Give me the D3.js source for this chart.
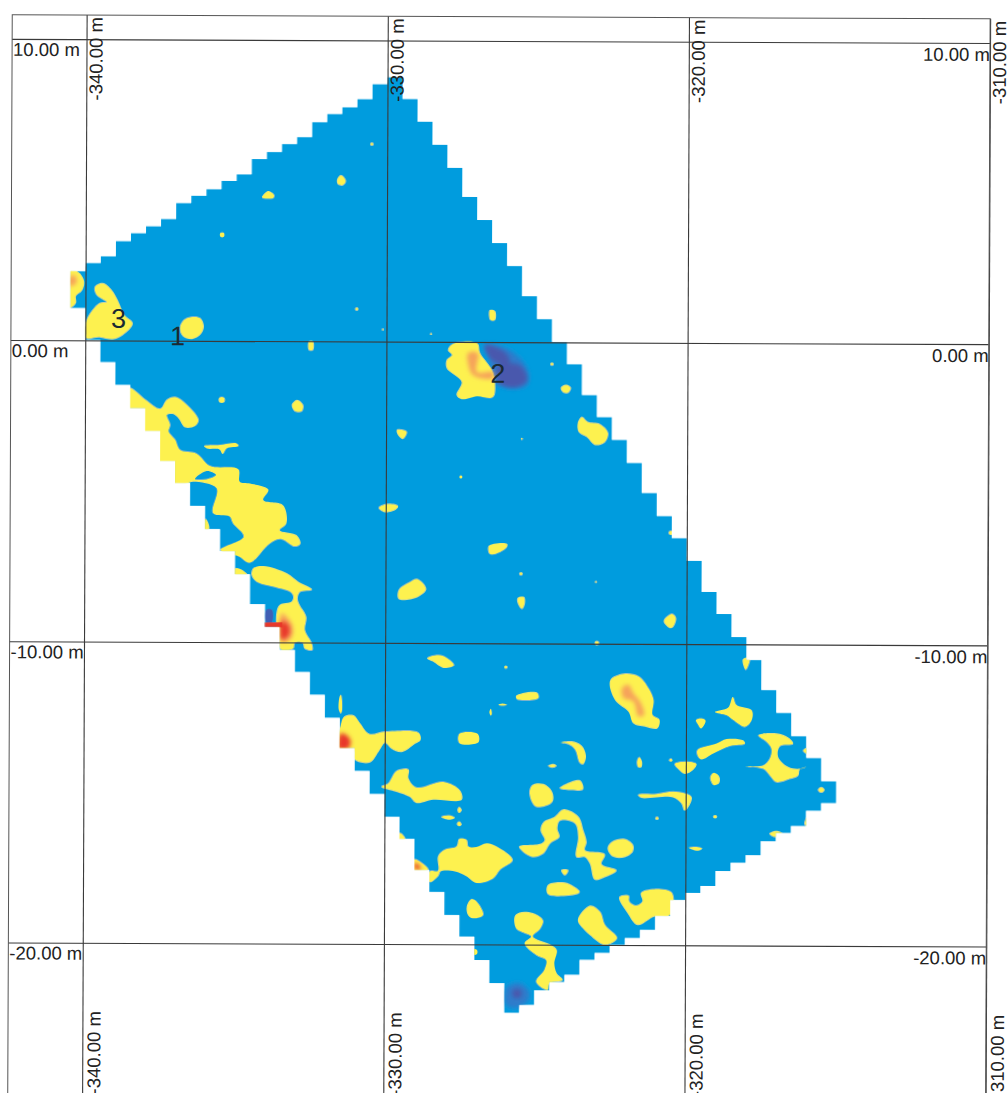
<!DOCTYPE html>
<html>
<head>
<meta charset="utf-8">
<script src="https://cdn.jsdelivr.net/npm/d3@7/dist/d3.min.js"></script>
<style>
  html, body { margin: 0; padding: 0; background: #fff; overflow: hidden; }
  text { font-family: "Liberation Sans", Arial, sans-serif; fill: #222; }
</style>
</head>
<body>
<div id="map"></div>
<script>
// grid ticks, metres
var xTicks = [-340, -330, -320, -310];
var yTicks = [10, 0, -10, -20];
var xTickLabels = ["-340.00 m", "-330.00 m", "-320.00 m", "-310.00 m"];
var yTickLabels = ["10.00 m", "0.00 m", "-10.00 m", "-20.00 m"];

// surveyed area: 0.5 m wide columns, top and bottom of each one (metres)
var colStart = -340.5, colWidth = 0.5;
var colTop = [2.30,2.57,2.80,3.30,3.57,3.80,4.04,4.57,4.81,5.04,5.31,5.54,6.04,6.28,6.55,6.78,7.28,7.55,7.78,8.05,8.55,8.78,8.06,7.30,6.54,5.78,4.81,4.05,3.29,2.53,1.53,0.77,0.01,-0.72,-1.74,-2.47,-3.23,-3.99,-4.99,-5.75,-6.48,-7.24,-8.27,-9.00,-9.76,-10.52,-11.51,-12.27,-13.04,-13.76,-14.53];
var colBottom = [1.07,0.01,-0.72,-1.48,-2.24,-3.00,-3.99,-4.72,-5.48,-6.25,-6.98,-7.74,-8.73,-9.49,-10.25,-10.98,-11.74,-12.50,-13.50,-14.26,-15.02,-15.78,-16.51,-17.54,-18.27,-19.03,-19.75,-20.52,-21.28,-22.27,-22.00,-21.51,-21.24,-21.00,-20.50,-20.27,-20.00,-19.77,-19.50,-19.03,-18.50,-18.26,-18.03,-17.53,-17.26,-17.00,-16.53,-16.26,-16.03,-15.52,-15.26];

// yellow anomalies, outlines in metres
var yellowBlobs = [
  [[-340.6,2.26],[-340.25,2.27],[-340.05,1.97],[-340.11,1.67],[-340.32,1.47],[-340.32,1.24],[-340.6,1.05]],
  [[-339.99,0.08],[-339.96,0.67],[-339.53,1.24],[-339.29,1.27],[-339.62,1.50],[-339.69,1.77],[-339.43,1.90],[-339.13,1.67],[-338.93,1.34],[-338.70,0.84],[-338.43,0.57],[-338.76,0.18],[-339.09,0.04],[-339.53,0.11]],
  [[-336.86,0.42],[-336.73,0.69],[-336.5,0.79],[-336.2,0.76],[-336.07,0.49],[-336.17,0.22],[-336.46,0.06],[-336.76,0.16]],
  [[-331.53,5.52],[-331.37,5.33],[-331.47,5.19],[-331.63,5.22],[-331.66,5.36]],
  [[-334.15,4.78],[-333.95,4.98],[-333.75,4.85],[-333.78,4.75],[-334.12,4.75]],
  [[-326.57,1.06],[-326.40,1.03],[-326.40,0.73],[-326.55,0.73]],
  [[-332.57,0.0],[-332.44,0.0],[-332.44,-0.29],[-332.57,-0.29]],
  [[-327.95,-0.27],[-327.79,-0.07],[-326.99,-0.04],[-326.89,-0.37],[-326.49,-0.93],[-326.39,-1.36],[-326.46,-1.83],[-326.99,-1.80],[-327.49,-1.90],[-327.66,-1.76],[-327.49,-1.33],[-327.99,-0.87],[-327.99,-0.60],[-327.82,-0.43]],
  [[-323.50,-2.47],[-323.30,-2.64],[-322.90,-2.71],[-322.63,-3.0],[-322.73,-3.30],[-323.06,-3.40],[-323.33,-3.14],[-323.60,-2.97],[-323.63,-2.67]],
  [[-324.20,-1.51],[-324.03,-1.41],[-323.87,-1.51],[-323.97,-1.68],[-324.13,-1.65]],
  [[-329.64,-2.93],[-329.44,-2.93],[-329.31,-3.0],[-329.44,-3.23],[-329.60,-3.10]],
  [[-333.13,-2.12],[-332.96,-1.95],[-332.76,-2.12],[-332.80,-2.32],[-333.03,-2.32]],
  [[-330.23,-5.52],[-329.93,-5.39],[-329.59,-5.46],[-329.69,-5.59],[-330.03,-5.66]],
  [[-329.55,-8.24],[-329.18,-7.98],[-328.95,-7.88],[-328.65,-8.21],[-328.95,-8.48],[-329.55,-8.54]],
  [[-326.57,-6.77],[-325.97,-6.70],[-325.97,-6.80],[-326.20,-6.97],[-326.53,-7.04]],
  [[-325.60,-8.49],[-325.40,-8.46],[-325.37,-8.66],[-325.46,-8.86],[-325.60,-8.66]],
  [[-320.75,-9.24],[-320.48,-9.0],[-320.35,-9.14],[-320.45,-9.44],[-320.55,-9.47]],
  [[-318.12,-10.50],[-317.89,-10.45],[-318.02,-10.85]],
  // long chain down the west edge
  [[-338.50,-1.57],[-338.0,-1.96],[-337.5,-2.26],[-337.28,-1.96],[-337.0,-1.87],[-336.56,-2.18],[-336.23,-2.63],[-336.34,-2.82],[-336.67,-2.87],[-336.89,-2.57],[-337.06,-2.43],[-337.28,-2.46],[-337.17,-2.79],[-337.22,-3.01],[-337.0,-3.29],[-336.84,-3.62],[-336.28,-3.75],[-335.84,-4.15],[-334.90,-4.26],[-334.85,-4.67],[-334.51,-4.73],[-333.90,-4.93],[-334.07,-5.28],[-333.41,-5.45],[-333.30,-6.05],[-333.52,-6.28],[-332.96,-6.44],[-332.83,-6.72],[-333.02,-6.81],[-333.46,-6.57],[-333.85,-6.72],[-334.51,-7.36],[-334.85,-7.16],[-335.48,-6.94],[-334.71,-6.50],[-335.07,-6.05],[-335.18,-5.83],[-335.73,-5.72],[-335.62,-4.89],[-336.39,-4.67],[-336.62,-4.73],[-337.2,-4.85],[-338,-4],[-338.8,-2.6],[-338.8,-1.6]],
  [[-335.98,-5.91],[-335.86,-6.23],[-336.1,-6.3]],
  [[-334.38,-7.54],[-334.05,-7.47],[-333.27,-7.71],[-332.89,-7.99],[-332.44,-8.24],[-332.83,-8.32],[-332.92,-8.54],[-332.85,-8.76],[-332.63,-9.15],[-332.67,-9.59],[-332.44,-10.03],[-332.42,-10.25],[-332.67,-10.2],[-332.74,-10.01],[-333.0,-10.01],[-333.05,-10.2],[-333.44,-10.25],[-333.55,-9.98],[-333.61,-9.04],[-333.50,-8.76],[-333.11,-8.65],[-333.05,-8.48],[-333.16,-8.32],[-333.72,-8.15],[-334.27,-7.99],[-334.44,-7.77]],
  [[-334.96,-7.54],[-334.60,-7.74],[-335.1,-7.8]],
  [[-336.04,-3.49],[-335.51,-3.45],[-334.96,-3.40],[-334.90,-3.49],[-335.29,-3.57],[-335.42,-3.75],[-335.53,-3.60],[-335.95,-3.57]],
  [[-328.60,-10.51],[-328.29,-10.40],[-328.06,-10.43],[-327.71,-10.73],[-328.06,-10.82],[-328.40,-10.62]],
  // south east group
  [[-322.52,-11.22],[-322.08,-11.0],[-321.58,-11.08],[-321.25,-11.47],[-321.08,-11.86],[-321.11,-12.36],[-320.88,-12.52],[-320.95,-12.80],[-321.36,-12.74],[-321.75,-12.63],[-321.91,-12.25],[-322.36,-11.86]],
  [[-319.04,-12.25],[-318.60,-12.10],[-318.45,-11.75],[-318.32,-12.02],[-317.82,-12.19],[-317.82,-12.52],[-318.04,-12.74],[-318.43,-12.52],[-318.65,-12.36]],
  [[-319.67,-12.52],[-319.48,-12.47],[-319.35,-12.54],[-319.50,-12.80],[-319.59,-12.69]],
  [[-319.62,-13.52],[-318.98,-13.30],[-318.65,-13.15],[-318.10,-13.19],[-318.04,-13.30],[-318.54,-13.38],[-319.09,-13.63],[-319.48,-13.83],[-319.59,-13.74]],
  [[-317.60,-13.02],[-316.99,-12.96],[-316.60,-13.10],[-316.44,-13.30],[-316.88,-13.38],[-316.94,-13.74],[-316.60,-14.07],[-316.22,-14.13],[-315.97,-14.05],[-316.22,-14.15],[-316.27,-14.35],[-316.55,-14.46],[-316.99,-14.57],[-317.21,-14.35],[-317.43,-14.13],[-318.01,-14.05],[-317.43,-14.02],[-317.21,-13.79],[-317.16,-13.46],[-317.32,-13.24]],
  [[-316.11,-13.52],[-316.0,-13.44],[-315.97,-13.63]],
  [[-315.61,-14.82],[-315.50,-14.73],[-315.39,-14.82],[-315.50,-14.91]],
  [[-316.05,-15.95],[-315.97,-15.71],[-315.97,-16.04]],
  [[-317.21,-16.28],[-316.99,-16.19],[-316.77,-16.28],[-317.05,-16.39]],
  [[-321.62,-13.90],[-321.55,-13.76],[-321.46,-13.90],[-321.48,-14.09],[-321.58,-14.09]],
  [[-320.37,-13.98],[-319.98,-13.90],[-319.65,-13.98],[-319.76,-14.18],[-320.03,-14.31],[-320.22,-14.18]],
  [[-319.18,-14.40],[-319.07,-14.27],[-318.89,-14.40],[-318.90,-14.62],[-319.07,-14.68],[-319.15,-14.57]],
  [[-321.58,-15.01],[-320.97,-14.98],[-320.42,-14.90],[-320.03,-14.96],[-319.81,-15.07],[-319.85,-15.29],[-320.03,-15.53],[-320.14,-15.29],[-320.42,-15.09],[-320.97,-15.09],[-321.47,-15.11]],
  [[-319.89,-16.76],[-319.65,-16.73],[-319.45,-16.78],[-319.59,-16.86]],
  [[-322.58,-16.78],[-322.41,-16.56],[-322.02,-16.48],[-321.75,-16.67],[-321.75,-16.89],[-322.02,-17.08],[-322.41,-17.06]],
  // winding arch
  [[-325.52,-16.75],[-324.83,-16.66],[-324.67,-16.53],[-324.81,-16.19],[-324.70,-15.92],[-324.34,-15.75],[-324.06,-15.51],[-323.56,-15.75],[-323.40,-16.19],[-323.29,-16.58],[-323.34,-16.86],[-322.68,-16.99],[-322.79,-17.32],[-322.29,-17.52],[-322.73,-17.77],[-323.01,-17.83],[-323.17,-17.30],[-323.34,-17.08],[-323.62,-17.08],[-323.56,-16.42],[-323.67,-15.97],[-324.17,-15.88],[-324.26,-16.14],[-324.19,-16.42],[-324.50,-16.64],[-324.72,-16.97],[-325.11,-17.08]],
  [[-328.21,-17.08],[-327.99,-16.86],[-327.60,-16.75],[-327.51,-16.50],[-327.27,-16.53],[-327.21,-16.75],[-326.94,-16.77],[-326.60,-16.64],[-326.27,-16.75],[-325.74,-17.19],[-326.16,-17.52],[-326.38,-17.80],[-326.94,-17.96],[-327.27,-17.74],[-327.65,-17.58],[-328.13,-17.58],[-328.21,-17.74],[-328.48,-17.94],[-328.48,-17.58],[-328.21,-17.56]],
  [[-329.0,-17.19],[-328.76,-17.30],[-328.54,-17.52],[-329.0,-17.55]],
  [[-329.48,-16.31],[-329.31,-16.50],[-329.55,-16.55]],
  [[-327.25,-18.74],[-327.10,-18.50],[-326.94,-18.57],[-326.71,-19.02],[-327.05,-19.13],[-327.21,-19.02]],
  [[-324.12,-17.52],[-323.89,-17.52],[-324.0,-17.69]],
  [[-324.56,-18.02],[-324.0,-17.94],[-323.51,-18.24],[-323.62,-18.32],[-324.56,-18.32]],
  [[-325.66,-19.07],[-325.50,-18.94],[-325.06,-18.96],[-324.72,-19.20],[-324.81,-19.46],[-325.06,-19.73],[-324.45,-20.01],[-324.26,-20.18],[-324.34,-20.62],[-324.26,-20.95],[-324.06,-21.17],[-324.50,-21.28],[-324.56,-21.50],[-324.94,-21.23],[-324.67,-20.84],[-324.61,-20.51],[-324.94,-20.34],[-325.33,-19.96],[-325.11,-19.73],[-325.44,-19.57],[-325.61,-19.46]],
  // blobs at the 330 line
  [[-331.46,-12.73],[-331.35,-12.46],[-331.04,-12.42],[-330.82,-12.68],[-330.51,-13.03],[-329.99,-12.95],[-328.88,-12.98],[-328.81,-13.21],[-328.99,-13.34],[-329.44,-13.62],[-329.77,-13.51],[-329.99,-13.32],[-330.21,-13.62],[-330.49,-13.97],[-330.98,-13.89],[-331.04,-13.56],[-331.54,-13.51]],
  [[-331.50,-11.79],[-331.46,-11.74],[-331.42,-12.23],[-331.46,-12.35],[-331.53,-12.23]],
  [[-330.10,-14.78],[-329.88,-14.67],[-329.60,-14.25],[-329.21,-14.20],[-329.21,-14.50],[-328.94,-14.80],[-328.05,-14.61],[-327.50,-14.89],[-327.44,-15.20],[-328.38,-15.20],[-328.94,-15.31],[-329.16,-15.11],[-329.60,-14.94]],
  [[-327.52,-13.01],[-326.92,-13.01],[-326.89,-13.29],[-327.52,-13.32]],
  [[-325.64,-11.74],[-324.96,-11.63],[-324.90,-11.81],[-325.62,-11.85]],
  [[-326.23,-12.04],[-326.1,-12.0],[-325.95,-12.04],[-326.1,-12.07]],
  [[-326.53,-12.29],[-326.48,-12.18],[-326.45,-12.35],[-326.48,-12.40]],
  [[-324.18,-13.29],[-323.79,-13.25],[-323.46,-13.40],[-323.32,-13.73],[-323.41,-14.0],[-323.52,-13.95],[-323.68,-13.51],[-323.90,-13.34]],
  [[-324.57,-14.06],[-324.40,-14.0],[-324.29,-14.06],[-324.45,-14.12]],
  [[-324.18,-14.80],[-323.52,-14.54],[-323.41,-14.83],[-323.85,-14.86]],
  [[-325.18,-14.89],[-325.07,-14.69],[-324.73,-14.67],[-324.46,-14.89],[-324.40,-15.17],[-324.51,-15.33],[-324.96,-15.42],[-325.12,-15.22]],
  [[-328.11,-15.77],[-327.83,-15.72],[-327.67,-15.80],[-327.89,-15.86]],
  [[-327.52,-15.44],[-327.44,-15.55],[-327.52,-15.64],[-327.57,-15.55]],
  [[-327.59,-16.0],[-327.52,-15.92],[-327.44,-16.02],[-327.52,-16.08]],
  [[-323.56,-19.17],[-323.16,-18.70],[-322.83,-18.90],[-322.66,-19.34],[-322.26,-19.77],[-322.66,-20.0],[-323.16,-19.67],[-323.40,-19.44]],
  [[-322.19,-18.41],[-321.88,-18.36],[-321.86,-18.55],[-321.64,-18.69],[-321.42,-18.55],[-321.47,-18.27],[-321.03,-18.14],[-320.44,-18.27],[-320.51,-18.99],[-321.03,-19.05],[-321.58,-19.33],[-321.91,-18.94]]
];

// blue pockets left open inside the yellow
var holeBlobs = [
  [[-336.34,-4.59],[-335.95,-4.32],[-335.64,-4.45],[-335.90,-4.58]]
];

// orange cores
var orangeBlobs = [
  [[-327.29,-0.37],[-326.96,-0.37],[-326.99,-1.0],[-326.46,-1.0],[-326.46,-1.2],[-327.12,-1.10],[-327.29,-0.70]],
  [[-322.13,-11.47],[-321.91,-11.36],[-321.75,-11.64],[-321.53,-11.91],[-321.39,-12.36],[-321.58,-12.41],[-321.75,-11.91],[-322.08,-11.80]],
  [[-333.44,-9.04],[-333.11,-9.37],[-333.08,-9.76],[-333.27,-9.98],[-333.44,-9.98]],
  [[-340.55,2.1],[-340.35,2.15],[-340.3,1.9],[-340.55,1.8]]
];

// red cores
var redBlobs = [
  [[-333.44,-9.30],[-333.20,-9.45],[-333.20,-9.75],[-333.44,-9.90]],
  [[-331.46,-13.01],[-331.21,-13.12],[-331.13,-13.29],[-331.21,-13.51],[-331.55,-13.51]],
  [[-328.98,-17.30],[-328.82,-17.41],[-328.78,-17.50],[-328.98,-17.50]]
];
var redBar = [[-334.2,-9.35],[-333.42,-9.33],[-333.40,-9.50],[-334.2,-9.52]];

// weak lows, a wash of mid blue
var midBlobs = [
  [[-326.73,-0.10],[-325.90,-0.27],[-325.33,-0.87],[-325.33,-1.43],[-325.90,-1.53],[-326.39,-1.36],[-326.56,-1.0],[-326.56,-0.60]],
  [[-325.94,-21.45],[-325.5,-21.28],[-325.17,-21.56],[-325.22,-21.89],[-325.61,-22.11],[-325.94,-22.0]]
];

// stronger lows
var darkBlobs = [
  [[-326.73,-0.10],[-326.06,-0.34],[-325.90,-0.67],[-326.39,-0.67],[-326.63,-0.43]],
  [[-326.29,-0.77],[-325.56,-0.77],[-325.33,-1.26],[-325.73,-1.50],[-326.29,-1.33]],
  [[-325.70,-21.50],[-325.45,-21.50],[-325.45,-21.75],[-325.70,-21.75]]
];
var sideLow = [[-333.95,-8.92],[-333.76,-8.92],[-333.76,-9.32],[-333.95,-9.32]];

// tiny yellow spots: x, y, radius in metres
var speckX = [-335.47,-330.51,-330.99,-328.52,-330.12,-324.50,-325.49,-327.51,-325.50,-323.01,-322.97,-325.99,-320.53,-335.46,-320.5,-319.02,-320.95,-326.99];
var speckY = [3.52,6.56,1.08,0.26,0.40,-0.72,-3.21,-4.48,-7.69,-7.95,-9.98,-10.79,-6.31,-1.96,-13.85,-15.73,-15.79,-20.25];
var speckR = [0.08,0.05,0.05,0.03,0.03,0.05,0.03,0.05,0.05,0.03,0.07,0.05,0.07,0.1,0.05,0.06,0.05,0.1];

// numbered finds
var findNames = ["1", "2", "3"];
var findX = [-336.94, -326.30, -338.9];
var findY = [-0.15, -1.35, 0.42];

var width = 1007, height = 1093;
var blue = "#019cde", yellow = "#fdf150";

var x = d3.scaleLinear().domain([-340, -310]).range([86.7, 990.2]);
var y = d3.scaleLinear().domain([10, -20]).range([38.8, 942.4]);

var svg = d3.select("#map")
    .append("svg")
    .attr("width", width)
    .attr("height", height)
    .style("display", "block");

var defs = svg.append("defs");
defs.append("filter").attr("id", "soft").append("feGaussianBlur").attr("stdDeviation", 0.5);
defs.append("filter").attr("id", "softer")
    .attr("x", "-40%").attr("y", "-40%").attr("width", "180%").attr("height", "180%")
    .append("feGaussianBlur").attr("stdDeviation", 2.2);

// scanned sheet sits a little skewed on the page
var sheet = svg.append("g").attr("transform", "rotate(0.24)");

var outline = [];
colTop.forEach(function(t, i) {
    var left = colStart + i * colWidth;
    outline.push([left, t], [left + colWidth, t]);
});
for (var i = colBottom.length - 1; i >= 0; i--) {
    var left = colStart + i * colWidth;
    outline.push([left + colWidth, colBottom[i]], [left, colBottom[i]]);
}

var stairs = d3.line()
    .x(function(d) { return x(d[0]); })
    .y(function(d) { return y(d[1]); })
    .curve(d3.curveLinearClosed);

var blob = d3.line()
    .x(function(d) { return x(d[0]); })
    .y(function(d) { return y(d[1]); })
    .curve(d3.curveCatmullRomClosed.alpha(0.5));

defs.append("clipPath").attr("id", "area").append("path").attr("d", stairs(outline));

var map = sheet.append("g").attr("filter", "url(#soft)")
    .append("g").attr("clip-path", "url(#area)");

map.append("path").attr("d", stairs(outline)).attr("fill", blue);

function drawBlobs(list, colour, filter) {
    var g = map.append("g");
    if (filter) g.attr("filter", filter);
    g.selectAll("path")
        .data(list)
        .enter().append("path")
        .attr("d", blob)
        .attr("fill", colour);
}

drawBlobs(midBlobs, "#2f7ccb", "url(#softer)");
drawBlobs(darkBlobs, "#4a59ad", "url(#softer)");
drawBlobs([sideLow], "#3f5fb5");
drawBlobs(yellowBlobs, yellow);
drawBlobs(holeBlobs, blue);
drawBlobs(orangeBlobs, "#f6a35a", "url(#softer)");
drawBlobs(redBlobs, "#e8392a", "url(#softer)");
map.append("path")
    .attr("d", stairs(redBar))
    .attr("fill", "#e8392a");

map.append("g").selectAll("circle")
    .data(speckX)
    .enter().append("circle")
    .attr("cx", function(d) { return x(d); })
    .attr("cy", function(d, i) { return y(speckY[i]); })
    .attr("r", function(d, i) { return x(-340 + speckR[i]) - x(-340); })
    .attr("fill", yellow);

// grid and frame
var frameLeft = x(-342.47), frameTop = y(10.8), frameBottom = 1100;

var xGrid = d3.axisBottom(x).tickValues(xTicks).tickSize(frameBottom - frameTop).tickFormat("");
var yGrid = d3.axisRight(y).tickValues(yTicks).tickSize(x(-310) - frameLeft).tickFormat("");

sheet.append("g").attr("class", "x grid")
    .attr("transform", "translate(0," + frameTop + ")")
    .call(xGrid);
sheet.append("g").attr("class", "y grid")
    .attr("transform", "translate(" + frameLeft + ",0)")
    .call(yGrid);
sheet.selectAll(".grid .domain").remove();
sheet.selectAll(".grid line").attr("stroke", "#3a3a3a").attr("stroke-width", 1.1);

sheet.append("rect")
    .attr("x", frameLeft).attr("y", frameTop)
    .attr("width", x(-310) - frameLeft).attr("height", frameBottom - frameTop)
    .attr("fill", "none").attr("stroke", "#555").attr("stroke-width", 1);

// tick labels on all four sides
var labels = sheet.append("g").attr("font-size", 18.5);

labels.selectAll(".top").data(xTicks).enter().append("text")
    .attr("class", "top")
    .attr("transform", function(d) { return "translate(" + (x(d) + 16) + ",100) rotate(-90)"; })
    .text(function(d, i) { return xTickLabels[i]; });

labels.selectAll(".bottom").data(xTicks).enter().append("text")
    .attr("class", "bottom")
    .attr("transform", function(d) { return "translate(" + (x(d) + 18) + ",1094) rotate(-90)"; })
    .text(function(d, i) { return xTickLabels[i]; });

labels.selectAll(".left").data(yTicks).enter().append("text")
    .attr("class", "left")
    .attr("x", frameLeft + 1)
    .attr("y", function(d) { return y(d) + 17; })
    .text(function(d, i) { return yTickLabels[i]; });

labels.selectAll(".right").data(yTicks).enter().append("text")
    .attr("class", "right")
    .attr("x", x(-310))
    .attr("y", function(d) { return y(d) + 18; })
    .attr("text-anchor", "end")
    .text(function(d, i) { return yTickLabels[i]; });

sheet.append("g").attr("font-size", 27).selectAll("text")
    .data(findNames)
    .enter().append("text")
    .attr("x", function(d, i) { return x(findX[i]); })
    .attr("y", function(d, i) { return y(findY[i]); })
    .attr("text-anchor", "middle")
    .style("fill", "#1a2a33")
    .text(function(d) { return d; });
</script>
</body>
</html>
